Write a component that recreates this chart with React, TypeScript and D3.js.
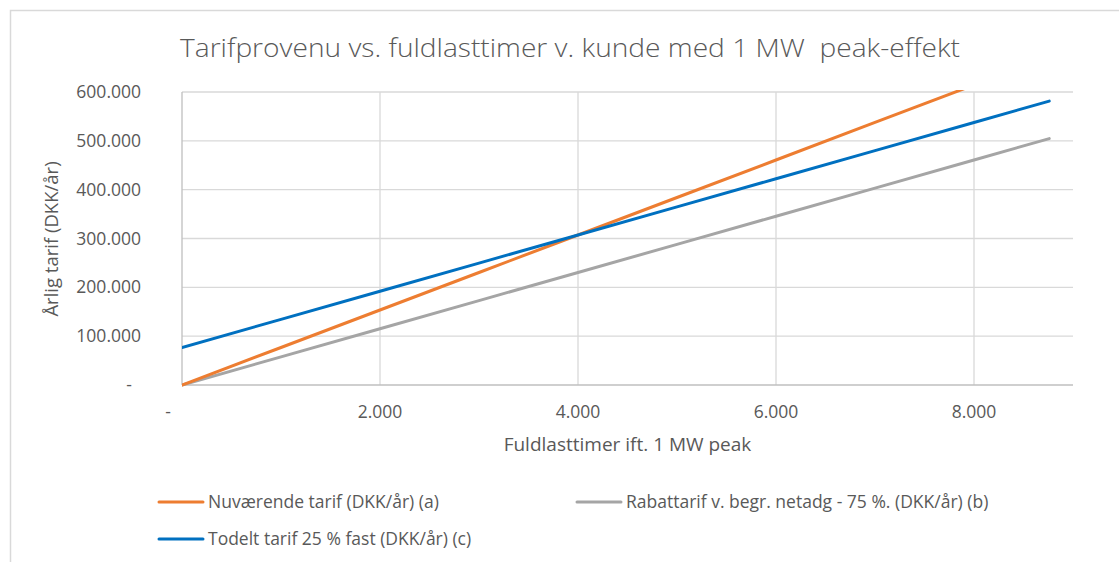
import React, { useEffect, useRef } from 'react';
import * as d3 from 'd3';

// Fuldlasttimer (hours at full load)
const hours = [0, 1000, 2000, 3000, 4000, 5000, 6000, 7000, 8000, 8760];

// Årlig tarif (DKK/år) per series
const nuvaerende = [0, 76800, 153600, 230400, 307200, 384000, 460800, 537600, 614400, 672768];
const rabattarif = [0, 57600, 115200, 172800, 230400, 288000, 345600, 403200, 460800, 504576];
const todelt = [76800, 134400, 192000, 249600, 307200, 364800, 422400, 480000, 537600, 581376];

const yTicks = [0, 100000, 200000, 300000, 400000, 500000, 600000];
const xTicks = [0, 2000, 4000, 6000, 8000];

const seriesNames = [
  'Nuværende tarif (DKK/år) (a)',
  'Rabattarif v. begr. netadg - 75 %. (DKK/år) (b)',
  'Todelt tarif 25 % fast (DKK/år) (c)',
];
const seriesColors = ['#ED7D31', '#A5A5A5', '#0070C0'];

const W = 1119;
const H = 562;
const FONT = '"Open Sans", "Liberation Sans", sans-serif';
const TXT = '#595959';

export default function App() {
  const svgRef = useRef<SVGSVGElement>(null);

  useEffect(() => {
    if (!svgRef.current) return;
    const svg = d3.select(svgRef.current);
    svg.selectAll('*').remove();

    const margin = { top: 92, right: 46, bottom: 177, left: 182 };
    const cw = W - margin.left - margin.right;
    const ch = H - margin.top - margin.bottom;

    const dk = d3.formatLocale({ decimal: ',', thousands: '.', grouping: [3], currency: ['', ''] });
    const fmt = (v: number) => (v === 0 ? '-' : dk.format(',.0f')(v));

    // chart area border
    svg.append('rect')
      .attr('x', 10.5).attr('y', 10.5)
      .attr('width', W + 20).attr('height', H + 20)
      .attr('fill', '#fff')
      .attr('stroke', '#d9d9d9')
      .attr('stroke-width', 1.5);

    // title (double space kept as in the source)
    svg.append('text')
      .attr('x', 570)
      .attr('y', 57)
      .attr('text-anchor', 'middle')
      .attr('fill', TXT)
      .attr('font-family', FONT)
      .attr('font-weight', 300)
      .attr('font-size', '26px')
      .attr('textLength', 780)
      .attr('lengthAdjust', 'spacingAndGlyphs')
      .style('white-space', 'pre')
      .text('Tarifprovenu vs. fuldlasttimer v. kunde med 1 MW  peak-effekt');

    const x = d3.scaleLinear().domain([0, 9000]).range([0, cw]);
    const y = d3.scaleLinear().domain([0, 600000]).range([ch, 0]);

    const g = svg.append('g').attr('transform', `translate(${margin.left},${margin.top})`);

    // gridlines
    g.selectAll('.hgrid')
      .data(yTicks.filter(d => d > 0))
      .enter()
      .append('line')
      .attr('x1', 0).attr('x2', cw)
      .attr('y1', d => y(d)).attr('y2', d => y(d))
      .attr('stroke', '#d9d9d9')
      .attr('stroke-width', 1.3);

    g.selectAll('.vgrid')
      .data(xTicks.filter(d => d > 0))
      .enter()
      .append('line')
      .attr('x1', d => x(d)).attr('x2', d => x(d))
      .attr('y1', 0).attr('y2', ch)
      .attr('stroke', '#d9d9d9')
      .attr('stroke-width', 1.3);

    // axis lines
    g.append('line')
      .attr('x1', 0).attr('x2', cw).attr('y1', ch).attr('y2', ch)
      .attr('stroke', '#bfbfbf').attr('stroke-width', 1.3);
    g.append('line')
      .attr('x1', 0).attr('x2', 0).attr('y1', 0).attr('y2', ch)
      .attr('stroke', '#bfbfbf').attr('stroke-width', 1.3);

    // tick labels
    g.selectAll('.ylab')
      .data(yTicks)
      .enter()
      .append('text')
      .attr('x', d => (d === 0 ? -50 : -41))
      .attr('y', d => y(d) + 6)
      .attr('text-anchor', 'end')
      .attr('fill', TXT)
      .attr('font-family', FONT)
      .attr('font-size', '17.5px')
      .text(d => fmt(d));

    g.selectAll('.xlab')
      .data(xTicks)
      .enter()
      .append('text')
      .attr('x', d => (d === 0 ? x(d) - 14 : x(d)))
      .attr('y', ch + 33)
      .attr('text-anchor', 'middle')
      .attr('fill', TXT)
      .attr('font-family', FONT)
      .attr('font-size', '17.5px')
      .text(d => fmt(d));

    // axis titles
    g.append('text')
      .attr('x', cw / 2)
      .attr('y', ch + 66)
      .attr('text-anchor', 'middle')
      .attr('fill', TXT)
      .attr('font-family', FONT)
      .attr('font-size', '19px')
      .text('Fuldlasttimer ift. 1 MW peak');

    g.append('text')
      .attr('transform', `translate(${58 - margin.left},${239 - margin.top}) rotate(-90)`)
      .attr('text-anchor', 'middle')
      .attr('fill', TXT)
      .attr('font-family', FONT)
      .attr('font-size', '18.5px')
      .text('Årlig tarif (DKK/år)');

    // lines, clipped to plot area
    svg.append('defs').append('clipPath').attr('id', 'plotclip')
      .append('rect').attr('x', 0).attr('y', -2).attr('width', cw).attr('height', ch + 4);

    const line = d3.line<[number, number]>()
      .x(d => x(d[0]))
      .y(d => y(d[1]));

    const allSeries = [nuvaerende, rabattarif, todelt];
    const plot = g.append('g').attr('clip-path', 'url(#plotclip)');
    [1, 0, 2].forEach(i => {
      const pts = hours.map((h, k) => [h, allSeries[i][k]] as [number, number]);
      plot.append('path')
        .attr('d', line(pts))
        .attr('fill', 'none')
        .attr('stroke', seriesColors[i])
        .attr('stroke-width', 3)
        .attr('stroke-linecap', 'round')
        .attr('stroke-linejoin', 'round');
    });

    // legend
    const legendPos = [
      { x: 159, y: 502 },
      { x: 577, y: 502 },
      { x: 159, y: 539 },
    ];
    seriesNames.forEach((name, i) => {
      const p = legendPos[i];
      svg.append('line')
        .attr('x1', p.x).attr('x2', p.x + 44)
        .attr('y1', p.y).attr('y2', p.y)
        .attr('stroke', seriesColors[i])
        .attr('stroke-width', 3)
        .attr('stroke-linecap', 'round');
      svg.append('text')
        .attr('x', p.x + 49)
        .attr('y', p.y + 6)
        .attr('fill', TXT)
        .attr('font-family', FONT)
        .attr('font-size', '17.5px')
        .text(name);
    });
  }, []);

  return (
    <svg
      ref={svgRef}
      width={W}
      height={H}
      style={{ position: 'absolute', left: 0, top: 0, background: '#fff' }}
    />
  );
}
